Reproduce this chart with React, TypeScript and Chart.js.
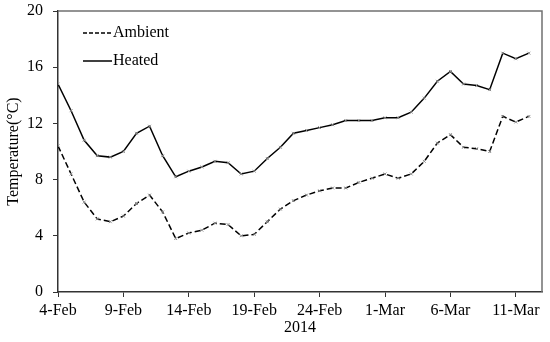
import React, { useEffect, useRef } from 'react';
import { Chart, registerables } from 'chart.js';

Chart.register(...registerables);

const dates = [
  '4-Feb', '5-Feb', '6-Feb', '7-Feb', '8-Feb', '9-Feb', '10-Feb', '11-Feb', '12-Feb', '13-Feb',
  '14-Feb', '15-Feb', '16-Feb', '17-Feb', '18-Feb', '19-Feb', '20-Feb', '21-Feb', '22-Feb', '23-Feb',
  '24-Feb', '25-Feb', '26-Feb', '27-Feb', '28-Feb', '1-Mar', '2-Mar', '3-Mar', '4-Mar', '5-Mar',
  '6-Mar', '7-Mar', '8-Mar', '9-Mar', '10-Mar', '11-Mar', '12-Mar',
];

const ambient = [
  10.4, 8.4, 6.4, 5.2, 5.0, 5.4, 6.3, 6.9, 5.7, 3.8,
  4.2, 4.4, 4.9, 4.8, 4.0, 4.1, 5.0, 5.9, 6.5, 6.9,
  7.2, 7.4, 7.4, 7.8, 8.1, 8.4, 8.1, 8.4, 9.3, 10.6,
  11.2, 10.3, 10.2, 10.0, 12.5, 12.1, 12.5,
];

const heated = [
  14.8, 12.9, 10.8, 9.7, 9.6, 10.0, 11.3, 11.8, 9.7, 8.2,
  8.6, 8.9, 9.3, 9.2, 8.4, 8.6, 9.5, 10.3, 11.3, 11.5,
  11.7, 11.9, 12.2, 12.2, 12.2, 12.4, 12.4, 12.8, 13.8, 15.0,
  15.7, 14.8, 14.7, 14.4, 17.0, 16.6, 17.0,
];

const xTickLabels = ['4-Feb', '9-Feb', '14-Feb', '19-Feb', '24-Feb', '1-Mar', '6-Mar', '11-Mar'];
const yTickValues = [0, 4, 8, 12, 16, 20];

const FONT = "'Liberation Serif', 'Times New Roman', serif";

const framePlugin = {
  id: 'frame',
  afterDatasetsDraw(chart: any) {
    const { ctx, chartArea } = chart;
    ctx.save();
    ctx.strokeStyle = '#707070';
    ctx.lineWidth = 1.5;
    ctx.beginPath();
    ctx.moveTo(chartArea.left, chartArea.top);
    ctx.lineTo(chartArea.right, chartArea.top);
    ctx.lineTo(chartArea.right, chartArea.bottom);
    ctx.stroke();
    ctx.restore();
  },
};

const legendPlugin = {
  id: 'insideLegend',
  afterDraw(chart: any) {
    const { ctx, chartArea } = chart;
    const items = chart.data.datasets;
    ctx.save();
    ctx.font = `16px ${FONT}`;
    ctx.textBaseline = 'middle';
    ctx.fillStyle = '#000';
    items.forEach((ds: any, i: number) => {
      const y = chartArea.top + 22 + i * 28;
      const x0 = chartArea.left + 25;
      ctx.strokeStyle = '#000';
      ctx.lineWidth = 1.5;
      ctx.setLineDash(ds.borderDash && ds.borderDash.length ? [4, 2] : []);
      ctx.beginPath();
      ctx.moveTo(x0, y);
      ctx.lineTo(x0 + 29, y);
      ctx.stroke();
      ctx.setLineDash([]);
      ctx.fillText(ds.label, x0 + 30, y);
    });
    ctx.restore();
  },
};

export default function App() {
  const canvasRef = useRef<HTMLCanvasElement | null>(null);

  useEffect(() => {
    if (!canvasRef.current) return;
    const toPoints = (arr: number[]) => arr.map((v, i) => ({ x: i, y: v }));
    const chart = new Chart(canvasRef.current, {
      type: 'line',
      data: {
        datasets: [
          {
            label: 'Ambient',
            data: toPoints(ambient),
            borderColor: '#000',
            borderWidth: 1.5,
            borderDash: [6, 3],
            pointStyle: 'crossRot',
            pointRadius: 2,
            pointBorderColor: '#8a8a8a',
            pointBorderWidth: 1,
            tension: 0,
            fill: false,
          },
          {
            label: 'Heated',
            data: toPoints(heated),
            borderColor: '#000',
            borderWidth: 1.5,
            pointStyle: 'crossRot',
            pointRadius: 2,
            pointBorderColor: '#8a8a8a',
            pointBorderWidth: 1,
            tension: 0,
            fill: false,
          },
        ],
      },
      options: {
        animation: false,
        responsive: true,
        maintainAspectRatio: false,
        layout: { padding: { top: 11, right: 8, left: 0, bottom: 0 } },
        plugins: {
          legend: { display: false },
          tooltip: { enabled: false },
        },
        scales: {
          x: {
            type: 'linear',
            min: 0,
            max: dates.length,
            afterBuildTicks: (scale: any) => {
              scale.ticks = xTickLabels.map((l) => ({ value: dates.indexOf(l) }));
            },
            afterFit: (scale: any) => {
              scale.height = 50;
              scale.paddingLeft = 0;
              scale.paddingRight = 0;
            },
            ticks: {
              callback: (v: any) => dates[v as number] ?? '',
              color: '#000',
              font: { family: FONT, size: 16 },
              padding: 4,
              maxRotation: 0,
              autoSkip: false,
            },
            grid: {
              drawOnChartArea: false,
              drawTicks: true,
              tickLength: 5,
              color: '#333',
            },
            border: { color: '#333', width: 1.5 },
            title: {
              display: true,
              text: '2014',
              color: '#000',
              font: { family: FONT, size: 16 },
              padding: { top: 0, bottom: 5 },
            },
          },
          y: {
            min: 0,
            max: 20,
            afterBuildTicks: (scale: any) => {
              scale.ticks = yTickValues.map((v) => ({ value: v }));
            },
            afterFit: (scale: any) => {
              scale.width = 58;
              scale.paddingTop = 0;
              scale.paddingBottom = 0;
            },
            ticks: {
              color: '#000',
              font: { family: FONT, size: 16 },
              padding: 10,
            },
            grid: {
              drawOnChartArea: false,
              drawTicks: true,
              tickLength: 5,
              color: '#333',
            },
            border: { color: '#333', width: 1.5 },
            title: {
              display: true,
              text: 'Temperature(°C)',
              color: '#000',
              font: { family: FONT, size: 16 },
              padding: { top: 4, bottom: 0 },
            },
          },
        },
      },
      plugins: [framePlugin, legendPlugin],
    });
    return () => chart.destroy();
  }, []);

  return (
    <div style={{ position: 'absolute', left: 0, top: 0, width: 550, height: 342, background: '#fff' }}>
      <canvas ref={canvasRef} />
    </div>
  );
}
